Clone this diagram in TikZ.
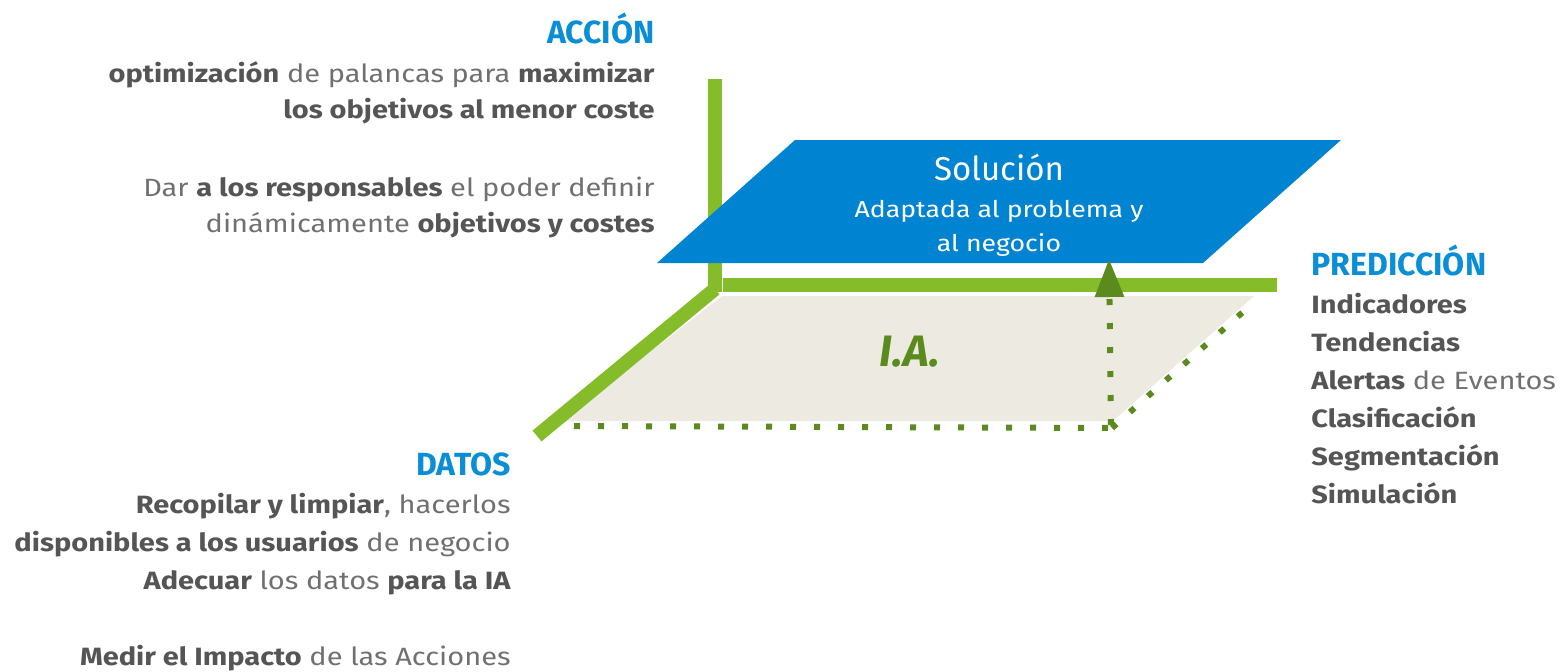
\documentclass[tikz,border=0pt]{standalone}
\usepackage{fontspec}
\setmainfont{Fira Sans}[FakeStretch=1.16]
\newfontfamily\hfont{Fira Sans}
\usetikzlibrary{arrows.meta}
\definecolor{grn}{HTML}{84BC2A}
\definecolor{dgrn}{HTML}{5B8A1E}
\definecolor{blu}{HTML}{0083D0}
\definecolor{hblu}{HTML}{0A8FD6}
\definecolor{beige}{HTML}{EDEBE1}
\definecolor{txd}{HTML}{555555}
\definecolor{txl}{HTML}{707070}
\newcommand\bt[1]{{\bfseries\color{txd}#1}}
\begin{document}
\begin{tikzpicture}[x=0.5pt,y=-0.5pt,
  head/.style={font=\hfont\bfseries\fontsize{16}{19}\selectfont, text=hblu, inner sep=0pt},
  body/.style={font=\fontsize{12.5}{15}\selectfont, text=txl, inner sep=0pt},
  axis/.style={draw=grn, line width=7pt},
  dots/.style={draw=dgrn, line width=3pt, dash pattern=on 3pt off 9pt},
  soltxt/.style={text=white, inner sep=0pt, anchor=base}]
\useasboundingbox (0,0) rectangle (1560,671);
% coordinates
\coordinate (vtop) at (715,79);
\coordinate (org) at (715,292);
\coordinate (dend) at (537,436);
\coordinate (hstart) at (723,285);
\coordinate (hend) at (1277,285);
\coordinate (b1) at (574,426);
\coordinate (b2) at (1112,428);
\coordinate (b3) at (1252,304);
\coordinate (up1) at (1111,425);
\coordinate (up2) at (1109,259);
% plane
\fill[beige] (722,296) -- (1254,296) -- (1113,421) -- (562,421) -- cycle;
% axes
\draw[axis] (vtop) -- (org);
\draw[axis] (715,289) -- (dend);
\draw[axis] (hstart) -- (hend);
% dotted edges
\draw[dots] (b1) -- (b2);
\draw[dots] (b2) -- (b3);
% solution plane
\fill[blu] (657,263) -- (795,140) -- (1341,140) -- (1203,263) -- cycle;
\draw[dots, -{Triangle[width=14pt,length=19pt]}] (up1) -- (up2);
% texts in solution
\node[soltxt, font=\hfont\fontsize{16.5}{19}\selectfont] (sol) at (999,180) {Solución};
\node[soltxt, font=\fontsize{11.5}{14}\selectfont] (sol2) at (999,217) {Adaptada al problema y};
\node[soltxt, font=\fontsize{11.5}{14}\selectfont] (sol3) at (999,251) {al negocio};
\node[font=\hfont\fontsize{22}{26}\selectfont\bfseries\itshape, text=dgrn, inner sep=0pt, anchor=base] (ia) at (910,366) {I.A.};
% ACCION
\node[head, anchor=base east] (acc) at (655,43) {ACCIÓN};
\node[body, anchor=base east] (a1) at (655,82) {\bt{optimización} de palancas para \bt{maximizar}};
\node[body, anchor=base east] (a2) at (655,118) {\bt{los objetivos al menor coste}};
\node[body, anchor=base east] (a3) at (655,196) {Dar \bt{a los responsables} el poder definir};
\node[body, anchor=base east] (a4) at (655,232) {dinámicamente \bt{objetivos y costes}};
% PREDICCION
\node[head, anchor=base west] (pre) at (1311,275) {PREDICCIÓN};
\node[body, anchor=base west] (p1) at (1311,313) {\bt{Indicadores}};
\node[body, anchor=base west] (p2) at (1311,351) {\bt{Tendencias}};
\node[body, anchor=base west] (p3) at (1311,389) {\bt{Alertas} de Eventos};
\node[body, anchor=base west] (p4) at (1311,427) {\bt{Clasificación}};
\node[body, anchor=base west] (p5) at (1311,465) {\bt{Segmentación}};
\node[body, anchor=base west] (p6) at (1311,503) {\bt{Simulación}};
% DATOS
\node[head, anchor=base east] (dat) at (511,475) {DATOS};
\node[body, anchor=base east] (d1) at (511,513) {\bt{Recopilar y limpiar}, hacerlos};
\node[body, anchor=base east] (d2) at (511,551) {\bt{disponibles a los usuarios} de negocio};
\node[body, anchor=base east] (d3) at (511,589) {\bt{Adecuar} los datos \bt{para la IA}};
\node[body, anchor=base east] (d4) at (511,665) {\bt{Medir el Impacto} de las Acciones};
\end{tikzpicture}
\end{document}
